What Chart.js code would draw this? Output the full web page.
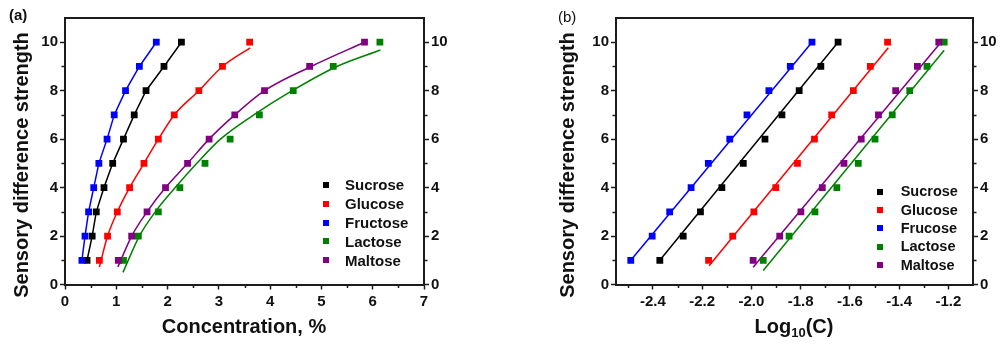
<!DOCTYPE html>
<html lang="en">

<head>
    <meta charset="UTF-8">
    <title>Sensory difference strength</title>
    <style>
        * {
            margin: 0;
            padding: 0;
            box-sizing: border-box;
        }

        body {
            width: 1003px;
            height: 345px;
            background: #fff;
            position: relative;
            overflow: hidden;
            color: #111;
            font-family: 'Liberation Sans', Arial, sans-serif;
        }

        canvas {
            position: absolute;
            top: 0;
        }

        #chartA { left: 0; }
        #chartB { left: 540px; }

        .txt {
            position: absolute;
            white-space: nowrap;
            font-weight: bold;
        }

        .ytitle {
            font-size: 20px;
            line-height: 20px;
            transform: translate(-50%, -50%) rotate(-90deg);
        }

        .xtitle {
            font-size: 20px;
            line-height: 20px;
            transform: translateX(-50%);
        }

        .xtitle sub {
            font-size: 13px;
            vertical-align: -4px;
            line-height: 0;
        }

        .legend {
            position: absolute;
            font-weight: bold;
        }

        .legend .row {
            position: absolute;
            left: 0;
            display: flex;
            align-items: center;
            white-space: nowrap;
        }

        .legend .box {
            display: inline-block;
            width: 6px;
            height: 6px;
        }
    </style>
</head>

<body>
    <canvas id="chartA" width="460" height="345"></canvas>
    <canvas id="chartB" width="463" height="345"></canvas>

    <div class="txt" style="left:9px; top:6px; font-size:15px; line-height:18px;">(a)</div>
    <div class="txt" style="left:558px; top:8px; font-size:15px; line-height:18px; font-weight:normal;">(b)</div>

    <div class="txt ytitle" style="left:21px; top:165px;">Sensory difference strength</div>
    <div class="txt ytitle" style="left:567px; top:165px;">Sensory difference strength</div>

    <div class="txt xtitle" style="left:244px; top:316px;">Concentration, %</div>
    <div class="txt xtitle" style="left:794px; top:316px;">Log<sub>10</sub>(C)</div>

    <div class="legend" id="legendA"></div>
    <div class="legend" id="legendB"></div>

    <script src="https://cdn.jsdelivr.net/npm/chart.js"></script>
    <script>
        // sensory strength levels (y of every point)
        const strength = [1, 2, 3, 4, 5, 6, 7, 8, 9, 10];

        const namesA = ['Sucrose', 'Glucose', 'Fructose', 'Lactose', 'Maltose'];
        const namesB = ['Sucrose', 'Glucose', 'Frucose', 'Lactose', 'Maltose'];
        const colors = ['#000000', '#ff0000', '#0000ff', '#008000', '#800080'];

        // (a) concentration, %
        const sucroseConc = [0.43, 0.53, 0.61, 0.76, 0.93, 1.14, 1.35, 1.58, 1.93, 2.27];
        const glucoseConc = [0.67, 0.83, 1.02, 1.26, 1.54, 1.82, 2.13, 2.61, 3.07, 3.60];
        const fructoseConc = [0.33, 0.39, 0.46, 0.56, 0.66, 0.82, 0.96, 1.18, 1.45, 1.78];
        const lactoseConc = [1.14, 1.43, 1.82, 2.24, 2.73, 3.22, 3.79, 4.45, 5.23, 6.14];
        const maltoseConc = [1.04, 1.30, 1.60, 1.96, 2.39, 2.81, 3.31, 3.89, 4.77, 5.84];

        // (a) fitted curves, [concentration, strength]
        const glucoseFitA = [[0.67, 0.72], [0.83, 2], [1.02, 3], [1.26, 4], [1.54, 5], [1.82, 6], [2.13, 7], [2.61, 8], [3.07, 9], [3.61, 9.77]];
        const lactoseFitA = [[1.13, 0.5], [1.45, 2], [1.76, 3], [2.15, 4], [2.57, 5], [3.03, 6], [3.68, 7], [4.43, 8], [5.3, 9], [6.15, 9.68]];
        const maltoseFitA = [[1.03, 0.72], [1.30, 2], [1.60, 3], [1.96, 4], [2.39, 5], [2.81, 6], [3.31, 7], [3.89, 8], [4.8, 9], [5.84, 10]];

        // (b) log10(C)
        const sucroseLog = [-2.372, -2.277, -2.207, -2.120, -2.033, -1.945, -1.876, -1.806, -1.718, -1.648];
        const glucoseLog = [-2.174, -2.076, -1.990, -1.901, -1.813, -1.744, -1.674, -1.586, -1.517, -1.447];
        const fructoseLog = [-2.490, -2.403, -2.332, -2.245, -2.175, -2.088, -2.018, -1.929, -1.842, -1.754];
        const lactoseLog = [-1.952, -1.847, -1.742, -1.653, -1.566, -1.498, -1.428, -1.357, -1.287, -1.217];
        const maltoseLog = [-1.993, -1.885, -1.799, -1.712, -1.624, -1.554, -1.484, -1.414, -1.326, -1.239];

        // (b) linear fits, start and end
        const sucroseFitB = [[-2.372, 1], [-1.648, 10]];
        const glucoseFitB = [[-2.172, 0.77], [-1.444, 9.77]];
        const fructoseFitB = [[-2.490, 1], [-1.754, 10]];
        const lactoseFitB = [[-1.952, 0.58], [-1.217, 9.67]];
        const maltoseFitB = [[-1.993, 0.71], [-1.230, 10]];

        // ticks
        const xTicksA = [0, 1, 2, 3, 4, 5, 6, 7];
        const xLabelsA = ['0', '1', '2', '3', '4', '5', '6', '7'];
        const xMinorA = [0.5, 1.5, 2.5, 3.5, 4.5, 5.5, 6.5];
        const xTicksB = [-2.4, -2.2, -2.0, -1.8, -1.6, -1.4, -1.2];
        const xLabelsB = ['-2.4', '-2.2', '-2.0', '-1.8', '-1.6', '-1.4', '-1.2'];
        const xMinorB = [-2.5, -2.3, -2.1, -1.9, -1.7, -1.5, -1.3];
        const yTicks = [0, 2, 4, 6, 8, 10];
        const yLabels = ['0', '2', '4', '6', '8', '10'];
        const yMinor = [1, 3, 5, 7, 9];

        const axisColor = '#1c1c1c';
        const tickFont = { family: "'Liberation Sans', Arial, sans-serif", size: 15, weight: 'bold' };

        function pairs(xs, ys) {
            return xs.map((x, i) => ({ x: x, y: ys[i] }));
        }

        function markers(xs, color, order) {
            return {
                data: pairs(xs, strength),
                showLine: false,
                pointStyle: 'rect',
                pointRadius: 4.8,
                pointHoverRadius: 4.8,
                backgroundColor: color,
                borderColor: color,
                borderWidth: 0,
                order: order
            };
        }

        function fit(points, color, smooth) {
            return {
                data: points.map(p => ({ x: p[0], y: p[1] })),
                showLine: true,
                pointRadius: 0,
                pointHoverRadius: 0,
                borderColor: color,
                borderWidth: 1.5,
                tension: 0,
                cubicInterpolationMode: smooth ? 'monotone' : 'default',
                order: 10
            };
        }

        // top frame line and the short minor ticks
        const framePlugin = {
            id: 'frame',
            afterDraw(chart, args, opts) {
                const { ctx, chartArea: a, scales } = chart;
                ctx.save();
                ctx.strokeStyle = axisColor;
                ctx.lineWidth = 2;
                ctx.beginPath();
                ctx.moveTo(a.left - 1, a.top);
                ctx.lineTo(a.right + 1, a.top);
                ctx.stroke();
                ctx.lineWidth = 1.5;
                ctx.beginPath();
                opts.xMinor.forEach(v => {
                    const x = Math.round(scales.x.getPixelForValue(v)) + 0.5;
                    ctx.moveTo(x, a.bottom);
                    ctx.lineTo(x, a.bottom + 3.5);
                });
                yMinor.forEach(v => {
                    const y = Math.round(scales.y.getPixelForValue(v)) + 0.5;
                    ctx.moveTo(a.left, y);
                    ctx.lineTo(a.left - 3.5, y);
                    ctx.moveTo(a.right, y);
                    ctx.lineTo(a.right + 3.5, y);
                });
                ctx.stroke();
                ctx.restore();
            }
        };

        function yAxis(position, width) {
            return {
                type: 'linear',
                position: position,
                min: 0,
                max: 11,
                afterFit: s => { s.width = width; },
                afterBuildTicks: s => { s.ticks = yTicks.map(v => ({ value: v })); },
                ticks: { callback: (v, i) => yLabels[i], font: tickFont, color: '#111', padding: 2 },
                grid: { drawOnChartArea: false, tickLength: 5, tickWidth: 1.5, tickColor: axisColor },
                border: { color: axisColor, width: 2 }
            };
        }

        function makeChart(id, datasets, xMin, xMax, xTicks, xLabels, xMinor, yWidth, y2Width) {
            return new Chart(document.getElementById(id), {
                type: 'scatter',
                data: { datasets: datasets },
                options: {
                    responsive: false,
                    animation: false,
                    devicePixelRatio: 1,
                    layout: { padding: { top: 18, left: 0, right: 0, bottom: 0 } },
                    plugins: {
                        legend: { display: false },
                        tooltip: { enabled: false },
                        frame: { xMinor: xMinor }
                    },
                    scales: {
                        x: {
                            type: 'linear',
                            min: xMin,
                            max: xMax,
                            afterFit: s => { s.height = 60.5; },
                            afterBuildTicks: s => { s.ticks = xTicks.map(v => ({ value: v })); },
                            ticks: { callback: (v, i) => xLabels[i], font: tickFont, color: '#111', padding: 3, maxRotation: 0, autoSkip: false },
                            grid: { drawOnChartArea: false, tickLength: 5, tickWidth: 1.5, tickColor: axisColor },
                            border: { color: axisColor, width: 2 }
                        },
                        y: yAxis('left', yWidth),
                        y2: yAxis('right', y2Width)
                    }
                },
                plugins: [framePlugin]
            });
        }

        const concA = [sucroseConc, glucoseConc, fructoseConc, lactoseConc, maltoseConc];
        const fitsA = [
            fit(pairs(sucroseConc, strength).map(p => [p.x, p.y]), colors[0], false),
            fit(glucoseFitA, colors[1], true),
            fit(pairs(fructoseConc, strength).map(p => [p.x, p.y]), colors[2], false),
            fit(lactoseFitA, colors[3], true),
            fit(maltoseFitA, colors[4], true)
        ];
        const dataA = concA.map((xs, i) => markers(xs, colors[i], 5 - i)).concat(fitsA);

        const logB = [sucroseLog, glucoseLog, fructoseLog, lactoseLog, maltoseLog];
        const fitsB = [sucroseFitB, glucoseFitB, fructoseFitB, lactoseFitB, maltoseFitB]
            .map((f, i) => fit(f, colors[i], false));
        const dataB = logB.map((xs, i) => markers(xs, colors[i], 5 - i)).concat(fitsB);

        makeChart('chartA', dataA, 0, 7, xTicksA, xLabelsA, xMinorA, 65, 36);
        makeChart('chartB', dataB, -2.55, -1.1, xTicksB, xLabelsB, xMinorB, 76, 30);

        // legends inside the plots
        function legend(id, names, left, firstY, step, size, gap) {
            const el = document.getElementById(id);
            el.style.left = left + 'px';
            el.style.top = '0px';
            el.style.fontSize = size + 'px';
            names.forEach((name, i) => {
                const row = document.createElement('div');
                row.className = 'row';
                row.style.top = (firstY + i * step - step / 2) + 'px';
                row.style.height = step + 'px';
                row.style.lineHeight = size + 'px';
                row.innerHTML = '<span class="box" style="background:' + colors[i] + '; margin-right:' + gap + 'px;"></span><span>' + name + '</span>';
                el.appendChild(row);
            });
        }

        legend('legendA', namesA, 323.3, 185, 18.8, 15, 15.7);
        legend('legendB', namesB, 877, 191.7, 18.3, 14.5, 17.7);
    </script>
</body>

</html>
